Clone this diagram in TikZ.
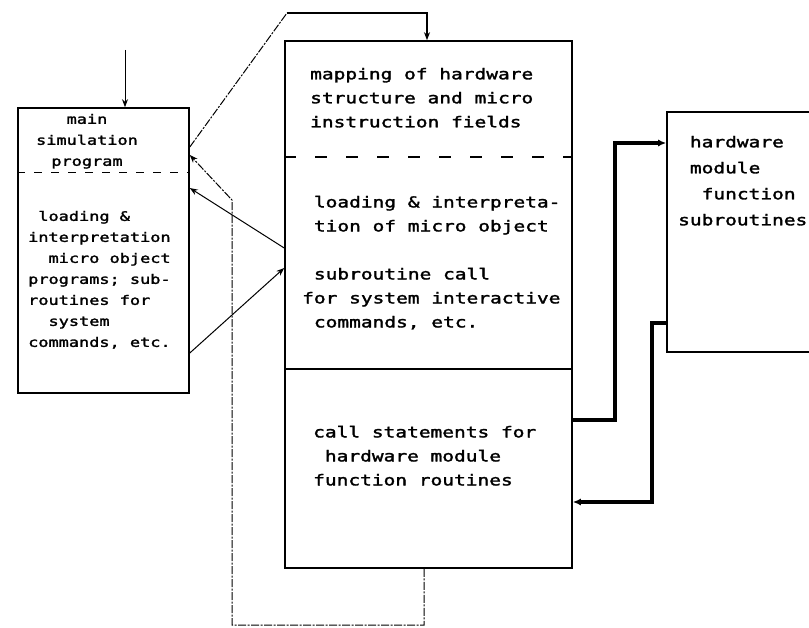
\documentclass[tikz,border=0pt]{standalone}
\usepackage{fontspec}
\newfontfamily\dotfont[FakeStretch=1.3,FakeBold=2]{DejaVu Sans Mono}
\usetikzlibrary{arrows.meta}
\newcommand\chsp{\phantom{x}}
\tikzset{
  box/.style={draw, line width=1.6pt, inner sep=0pt},
  lefttext/.style={font=\dotfont\fontsize{13}{21}\selectfont, inner sep=0pt},
  midtext/.style={font=\dotfont\fontsize{15}{24}\selectfont, inner sep=0pt, align=left, anchor=north west},
  righttext/.style={font=\dotfont\fontsize{15}{26}\selectfont, inner sep=0pt, align=left, anchor=north west},
  thinlink/.style={line width=1pt, -{Stealth[length=8pt,width=6pt]}},
  faint/.style={line width=1pt, dash pattern=on 8pt off 1.5pt on 2pt off 1.5pt},
  thicklink/.style={line width=3.2pt, -{Latex[length=8pt,width=7pt]}}
}
\begin{document}
\begin{tikzpicture}[x=1pt,y=-1pt]
  \useasboundingbox (0,0) rectangle (809,628);
  \clip (0,0) rectangle (809,628);

  % boxes
  \node[box, minimum width=171pt, minimum height=285pt] (lbox) at (103.5,250.5) {};
  \node[box, minimum width=287pt, minimum height=527pt] (mbox) at (428.5,304.5) {};
  \node[box, minimum width=183pt, minimum height=240pt] (rbox) at (758.5,232) {};

  % section lines
  \draw[line width=1pt, dash pattern=on 8pt off 9pt] (lbox.west |- 0,173) -- (lbox.east |- 0,173);
  \draw[line width=1.2pt, dash pattern=on 12pt off 19pt] (mbox.west |- 0,157) -- (mbox.east |- 0,157);
  \draw[line width=1.6pt] (mbox.west |- 0,369) -- (mbox.east |- 0,369);

  % texts
  \node[lefttext, align=center, anchor=north] (simtxt) at (87,113.7)
    {main\\simulation\\program};
  \node[lefttext, align=left, anchor=north west] (loadtxt) at (28,210.7)
    {\chsp loading \&\\interpretation\\\chsp\chsp micro object\\programs; sub-\\routines for\\\chsp\chsp system\\commands, etc.};
  \node[midtext] (maptxt) at (310,67.7)
    {mapping of hardware\\structure and micro\\instruction fields};
  \node[midtext] (interptxt) at (302,195.7)
    {\chsp loading \& interpreta-\\\chsp tion of micro object\\[24pt]\chsp subroutine call\\for system interactive\\\chsp commands, etc.};
  \node[midtext] (calltxt) at (313,425.7)
    {call statements for\\\chsp hardware module\\function routines};
  \node[righttext] (modtxt) at (678,135.7)
    {\chsp hardware\\\chsp module\\\chsp\chsp function\\subroutines};

  % entry into main program
  \coordinate (entry) at (125,50);
  \draw[thinlink] (entry) -- (lbox.north -| entry);

  % main program to mapping section
  \coordinate (up1) at (287,13);
  \coordinate (up2) at (427,13);
  \draw[faint] (lbox.east |- 0,147) -- (up1);
  \draw[thinlink, line width=1.6pt] (up1) -- (up2) -- (mbox.north -| up2);

  % return loop from the bottom
  \coordinate (lp1) at (424,625);
  \coordinate (lp2) at (232,625);
  \coordinate (lp3) at (232,200);
  \draw[faint, -{Stealth[length=8pt,width=6pt]}] (mbox.south -| lp1) -- (lp1) -- (lp2) -- (lp3) -- (lbox.east |- 0,155);

  % links between left and middle
  \draw[thinlink] (mbox.west |- 0,248) -- (lbox.east |- 0,188);
  \draw[thinlink] (lbox.east |- 0,353) -- (mbox.west |- 0,268);

  % links to hardware module subroutines
  \coordinate (r1) at (615,420);
  \coordinate (r2) at (615,143);
  \draw[thicklink] (mbox.east |- r1) -- (r1) -- (r2) -- (rbox.west |- r2);
  \coordinate (r3) at (652,323);
  \coordinate (r4) at (652,502);
  \draw[thicklink] (rbox.west |- r3) -- (r3) -- (r4) -- (mbox.east |- r4);
\end{tikzpicture}
\end{document}
